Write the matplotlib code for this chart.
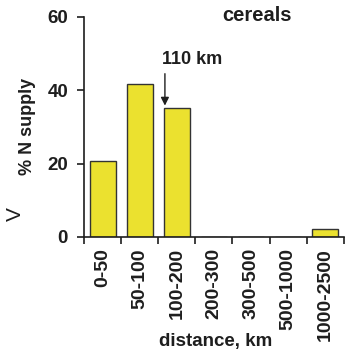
import matplotlib
matplotlib.use('Agg')
import matplotlib.pyplot as plt
import numpy as np

plt.rcParams['font.family'] = ['Liberation Sans', 'DejaVu Sans']
plt.rcParams['font.weight'] = 'bold'

# 距离分组与氮供应占比
categories = ['0-50', '50-100', '100-200', '200-300', '300-500', '500-1000', '1000-2500']
n_supply = [20.7, 41.8, 35.2, 0, 0, 0, 2.2]
mean_dist_label = '110 km'
mean_dist_x = 1.68      # 平均运输距离在分组轴上的位置

txt = '#1e1e1e'
fig = plt.figure(figsize=(3.47, 3.51), dpi=100)
ax = fig.add_axes([0.242, 0.325, 0.749, 0.627])

x = np.arange(len(categories))
ax.bar(x, n_supply, width=0.7, color='#ebe12f', edgecolor='#333333', linewidth=1.0)

ax.set_xlim(-0.5, len(categories) - 0.5)
ax.set_ylim(0, 60)
ax.set_yticks([0, 20, 40, 60])

# 刻度在分组边界上，标签放在分组中心
ax.set_xticks(np.arange(len(categories) + 1) - 0.5)
ax.set_xticklabels([])
ax.set_xticks(x, minor=True)
ax.set_xticklabels(categories, minor=True, rotation=90, fontsize=14,
                   fontweight='bold', color=txt)
ax.tick_params(axis='x', which='minor', length=0, pad=8)
ax.tick_params(axis='both', which='major', direction='out', length=5,
               width=1.2, color=txt, labelsize=13.5, labelcolor=txt)
ax.tick_params(axis='y', pad=6.5)

for s in ['top', 'right']:
    ax.spines[s].set_visible(False)
for s in ['left', 'bottom']:
    ax.spines[s].set_linewidth(1.2)
    ax.spines[s].set_color(txt)

ax.set_ylabel('% N supply', fontsize=13, fontweight='bold', color=txt)
ax.yaxis.set_label_coords(-0.185, 0.5)
fig.text(0.62, 0.026, 'distance, km', fontsize=13.5, fontweight='bold', color=txt,
         ha='center', va='center')

ax.text(4.16, 60.5, 'cereals', fontsize=14.5, fontweight='bold', color=txt,
        ha='center', va='center')
ax.text(1.60, 48.3, mean_dist_label, fontsize=13, fontweight='bold', color=txt,
        ha='left', va='center')
ax.annotate('', xy=(mean_dist_x, n_supply[2] + 0.6), xytext=(mean_dist_x, 44.5),
            arrowprops=dict(arrowstyle='-|>', color=txt, lw=1.0,
                            mutation_scale=12, shrinkA=0, shrinkB=0))

fig.text(0.043, 0.39, 'V', rotation=90, fontsize=15, fontweight='light',
         color=txt, ha='center', va='center')

fig.savefig('out.png', dpi=100)
